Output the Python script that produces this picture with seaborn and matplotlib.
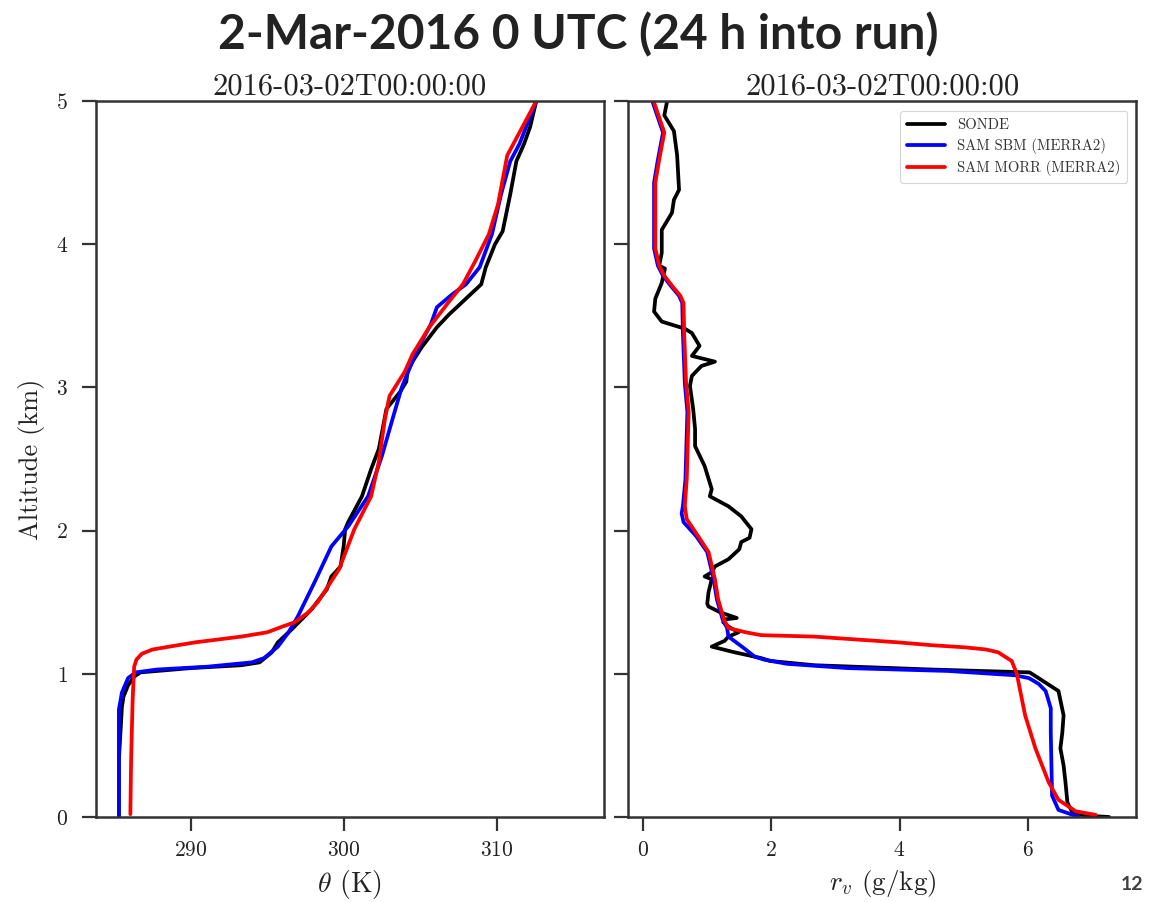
import numpy as np
import pandas as pd
import matplotlib
matplotlib.use("Agg")
import matplotlib.pyplot as plt
import seaborn as sns

# ---------------- data ----------------
# Left panel: potential temperature theta (K) vs altitude (km)
sonde_theta_alt = [0.00, 0.40, 0.77, 0.84, 0.92, 0.98, 1.01, 1.04, 1.06, 1.08, 1.15, 1.22, 1.31, 1.45,
                   1.59, 1.68, 1.75, 1.89, 2.01, 2.06, 2.24, 2.43, 2.57, 2.85, 2.97, 3.04, 3.13,
                   3.28, 3.42, 3.51, 3.60, 3.72, 3.84, 4.00, 4.09, 4.35, 4.58, 4.70, 4.82, 5.00]
sonde_theta = [285.3, 285.3, 285.5, 285.6, 285.9, 286.3, 286.7, 290.0, 293.3, 294.5, 295.3, 295.7, 296.6, 297.9,
               298.9, 299.2, 299.8, 300.0, 300.1, 300.3, 301.2, 301.8, 302.3, 302.8, 303.7, 304.1, 304.2,
               305.1, 306.1, 306.9, 307.8, 309.0, 309.3, 309.9, 310.4, 310.9, 311.3, 311.8, 312.2, 312.6]

sbm_theta_alt = [0.00, 0.40, 0.75, 0.87, 0.97, 1.01, 1.03, 1.05, 1.08, 1.11, 1.19, 1.29, 1.40, 1.64,
                 1.89, 2.03, 2.24, 2.52, 2.78, 3.00, 3.13, 3.30, 3.44, 3.56, 3.65, 3.72, 3.84,
                 4.07, 4.35, 4.58, 4.70, 5.00]
sbm_theta = [285.3, 285.3, 285.3, 285.5, 285.9, 286.4, 287.8, 291.1, 294.0, 294.8, 295.7, 296.4, 297.0, 298.1,
             299.2, 300.3, 301.6, 302.5, 303.2, 303.8, 304.3, 305.0, 305.7, 306.1, 307.1, 308.0, 308.9,
             309.7, 310.3, 310.9, 311.5, 312.6]

morr_theta_alt = [0.02, 0.40, 0.82, 1.05, 1.10, 1.14, 1.17, 1.19, 1.22, 1.26, 1.29, 1.33, 1.36, 1.43, 1.50,
                  1.73, 2.01, 2.24, 2.48, 2.78, 2.94, 3.11, 3.23, 3.42, 3.60, 3.72, 3.88, 4.07, 4.28,
                  4.62, 4.66, 5.00]
morr_theta = [286.05, 286.1, 286.2, 286.3, 286.45, 286.8, 287.5, 288.6, 290.3, 293.3, 295.0, 296.0, 296.8,
              297.7, 298.3, 299.7, 300.7, 301.8, 302.3, 302.7, 303.0, 304.0, 304.5, 305.6, 306.9, 307.8,
              308.6, 309.5, 310.1, 310.7, 310.9, 312.6]

# Right panel: water vapour mixing ratio r_v (g/kg) vs altitude (km)
sonde_rv_alt = [0.00, 0.01, 0.03, 0.10, 0.24, 0.36, 0.48, 0.59, 0.71, 0.88, 0.97, 1.01, 1.03, 1.06,
                1.09, 1.11, 1.15, 1.19, 1.23, 1.26, 1.29, 1.33, 1.36, 1.38, 1.39, 1.43, 1.47, 1.49,
                1.57, 1.66, 1.68, 1.71, 1.75, 1.80, 1.87, 1.92, 1.95, 2.01, 2.10, 2.17, 2.24, 2.29,
                2.45, 2.59, 2.71, 2.85, 3.01, 3.08, 3.15, 3.18, 3.22, 3.29, 3.38, 3.41, 3.46, 3.53,
                3.62, 3.73, 3.83, 3.85, 3.94, 4.10, 4.22, 4.31, 4.38, 4.62, 4.79, 4.90, 4.99]
sonde_rv = [7.27, 6.90, 6.70, 6.62, 6.59, 6.56, 6.51, 6.54, 6.56, 6.48, 6.17, 6.03, 4.50, 2.67,
            1.98, 1.84, 1.43, 1.07, 1.27, 1.33, 1.49, 1.33, 1.25, 1.27, 1.46, 1.20, 1.02, 1.00,
            1.02, 1.07, 0.96, 1.07, 1.12, 1.33, 1.50, 1.53, 1.66, 1.69, 1.53, 1.33, 1.04, 1.07,
            0.96, 0.81, 0.81, 0.78, 0.73, 0.76, 0.91, 1.12, 0.76, 0.88, 0.76, 0.65, 0.29, 0.17,
            0.19, 0.29, 0.34, 0.25, 0.29, 0.29, 0.45, 0.48, 0.56, 0.53, 0.48, 0.33, 0.37]

sbm_rv_alt = [0.00, 0.05, 0.15, 0.59, 0.76, 0.88, 0.93, 0.97, 0.99, 1.02, 1.04, 1.07, 1.10, 1.12, 1.18,
              1.26, 1.32, 1.38, 1.52, 1.66, 1.85, 1.96, 2.06, 2.12, 2.17, 2.36, 2.83, 3.03, 3.38,
              3.59, 3.64, 3.71, 3.78, 3.85, 3.97, 4.43, 4.59, 4.78, 4.99]
sbm_rv = [6.80, 6.48, 6.38, 6.36, 6.36, 6.28, 6.17, 6.02, 5.80, 4.76, 3.19, 2.24, 1.88, 1.74, 1.57,
          1.33, 1.31, 1.24, 1.15, 1.10, 1.00, 0.83, 0.63, 0.60, 0.62, 0.66, 0.69, 0.65, 0.62,
          0.61, 0.56, 0.43, 0.31, 0.23, 0.17, 0.17, 0.23, 0.31, 0.15]

morr_rv_alt = [0.015, 0.04, 0.12, 0.24, 0.48, 0.71, 1.00, 1.09, 1.15, 1.17, 1.185, 1.20, 1.22, 1.26,
               1.27, 1.29, 1.32, 1.38, 1.52, 1.66, 1.85, 1.96, 2.08, 2.17, 2.36, 2.83, 3.03, 3.38,
               3.59, 3.64, 3.71, 3.78, 3.85, 3.97, 4.43, 4.59, 4.78, 4.99]
morr_rv = [7.06, 6.75, 6.48, 6.33, 6.12, 5.96, 5.83, 5.75, 5.54, 5.35, 5.02, 4.50, 3.97, 2.67,
           1.84, 1.60, 1.33, 1.26, 1.17, 1.12, 1.02, 0.86, 0.68, 0.65, 0.68, 0.71, 0.67, 0.64,
           0.63, 0.58, 0.45, 0.33, 0.25, 0.19, 0.19, 0.25, 0.33, 0.17]

series_labels = ["SONDE", "SAM SBM (MERRA2)", "SAM MORR (MERRA2)"]
series_colors = ["black", "blue", "red"]
main_title = "2-Mar-2016 0 UTC (24 h into run)"
panel_title = "2016-03-02T00:00:00"
theta_ticks = [290, 300, 310]
rv_ticks = [0, 2, 4, 6]
alt_ticks = [0, 1, 2, 3, 4, 5]

# ---------------- style ----------------
sns.set_theme(style="ticks")
plt.rcParams["font.family"] = ["cmr10", "DejaVu Serif"]
plt.rcParams["mathtext.fontset"] = "cm"
plt.rcParams["axes.formatter.use_mathtext"] = True
plt.rcParams["axes.unicode_minus"] = False

spine_col = "#333333"
text_col = "#222222"

fig, axes = plt.subplots(1, 2, figsize=(11.63, 9.02), dpi=100)
plt.subplots_adjust(left=0.0825, right=0.9768, bottom=0.0942, top=0.888, wspace=0.049)

def build(alt, val, label):
    return pd.DataFrame({"alt": alt, "val": val, "series": label})

left_df = pd.concat([build(sonde_theta_alt, sonde_theta, series_labels[0]),
                     build(sbm_theta_alt, sbm_theta, series_labels[1]),
                     build(morr_theta_alt, morr_theta, series_labels[2])])
right_df = pd.concat([build(sonde_rv_alt, sonde_rv, series_labels[0]),
                      build(sbm_rv_alt, sbm_rv, series_labels[1]),
                      build(morr_rv_alt, morr_rv, series_labels[2])])

palette = dict(zip(series_labels, series_colors))
for ax, df in zip(axes, [left_df, right_df]):
    sns.lineplot(data=df, x="val", y="alt", hue="series", palette=palette,
                 sort=False, estimator=None, lw=2.7, ax=ax, legend=(ax is axes[1]))
    for ln in ax.get_lines():
        ln.set_solid_joinstyle("round")
    ax.set_ylim(0, 5)
    ax.set_yticks(alt_ticks)
    ax.set_title(panel_title, fontsize=22, pad=5, color=text_col)
    for s in ax.spines.values():
        s.set_linewidth(1.8)
        s.set_color(spine_col)
    ax.tick_params(axis="both", length=10, width=1.6, color=spine_col,
                   labelsize=15.5, labelcolor=text_col)
    ax.tick_params(axis="x", pad=7)
    ax.tick_params(axis="y", pad=10)

axes[0].set_xlim(283.8, 317.0)
axes[0].set_xticks(theta_ticks)
axes[0].set_xlabel(r"$\theta$ (K)", fontsize=20, color=text_col, labelpad=6)
axes[0].set_ylabel("Altitude (km)", fontsize=19, color=text_col, labelpad=8)

axes[1].set_xlim(-0.23, 7.69)
axes[1].set_xticks(rv_ticks)
axes[1].set_yticklabels([])
axes[1].set_xlabel(r"$r_v$ (g/kg)", fontsize=19.5, color=text_col, labelpad=6)
axes[1].set_ylabel("")

leg = axes[1].legend(loc="upper right", fontsize=10.5, frameon=True, handlelength=2.6,
                     labelspacing=0.42, borderpad=0.5, fancybox=True,
                     bbox_to_anchor=(0.9975, 0.9965))
leg.get_frame().set_edgecolor("#cccccc")
leg.get_frame().set_linewidth(0.8)
for line in leg.get_lines():
    line.set_linewidth(2.7)
for t in leg.get_texts():
    t.set_color("#333333")

fig.text(0.497, 0.961, main_title, ha="center", va="center", fontsize=34.5,
         fontweight="bold", family="Lato", color=text_col)
fig.text(0.973, 0.019, "12", ha="center", va="center", fontsize=14,
         fontweight="bold", family="Lato", color="#404040")

fig.savefig("out.png", dpi=100)
